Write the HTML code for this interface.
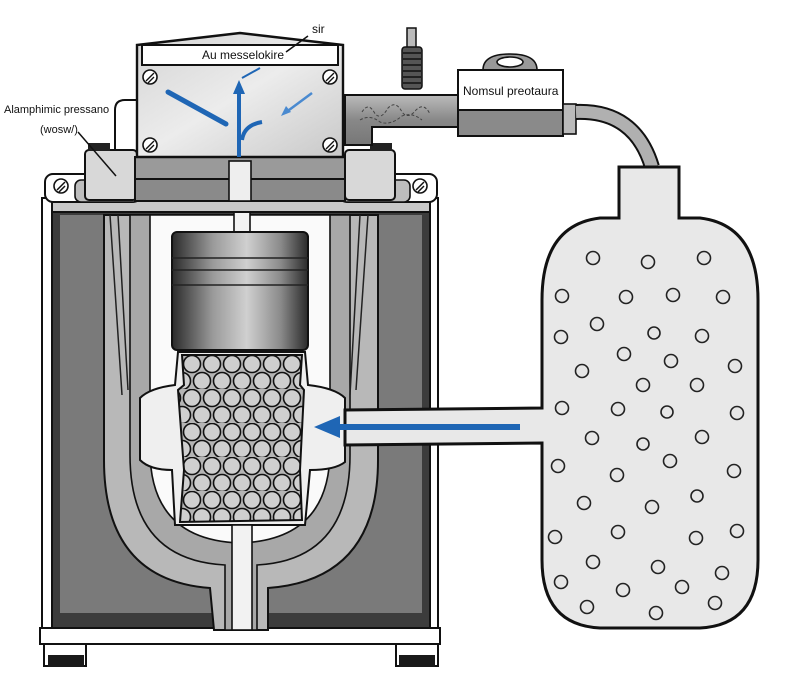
<!DOCTYPE html>
<html><head><meta charset="utf-8"><style>
html,body{margin:0;padding:0;background:#fff;}
svg{display:block;}
text{font-family:"Liberation Sans",sans-serif;}
</style></head><body>
<svg width="800" height="689" viewBox="0 0 800 689" xmlns="http://www.w3.org/2000/svg">
<defs>
<linearGradient id="piston" x1="0" y1="0" x2="1" y2="0">
<stop offset="0" stop-color="#2a2a2a"/><stop offset="0.3" stop-color="#9a9a9a"/><stop offset="0.55" stop-color="#d0d0d0"/><stop offset="0.8" stop-color="#8a8a8a"/><stop offset="1" stop-color="#2a2a2a"/>
</linearGradient>
<linearGradient id="head" x1="0" y1="0" x2="1" y2="1">
<stop offset="0" stop-color="#d4d4d4"/><stop offset="0.5" stop-color="#ececec"/><stop offset="1" stop-color="#c8c8c8"/>
</linearGradient>
<linearGradient id="pipe" x1="0" y1="0" x2="0" y2="1">
<stop offset="0" stop-color="#bbb"/><stop offset="0.5" stop-color="#888"/><stop offset="1" stop-color="#777"/>
</linearGradient>
<pattern id="beads" x="182" y="355" width="40" height="34" patternUnits="userSpaceOnUse">
<rect width="40" height="34" fill="#b5b5b5"/>
<circle cx="10" cy="9" r="8.5" fill="#cfcfcf" stroke="#111" stroke-width="1.6"/>
<circle cx="30" cy="9" r="8.5" fill="#cfcfcf" stroke="#111" stroke-width="1.6"/>
<circle cx="20" cy="26" r="8.5" fill="#cfcfcf" stroke="#111" stroke-width="1.6"/>
<circle cx="0" cy="26" r="8.5" fill="#cfcfcf" stroke="#111" stroke-width="1.6"/>
<circle cx="40" cy="26" r="8.5" fill="#cfcfcf" stroke="#111" stroke-width="1.6"/>
</pattern>
</defs>

<!-- outer frame -->
<rect x="42" y="198" width="396" height="432" fill="#fff" stroke="#111" stroke-width="2"/>
<rect x="52" y="212" width="378" height="418" fill="#3c3c3c" stroke="#111" stroke-width="2"/>
<rect x="60" y="215" width="362" height="398" fill="#7a7a7a"/>
<rect x="40" y="628" width="400" height="16" fill="#fff" stroke="#111" stroke-width="2"/>
<rect x="44" y="644" width="42" height="22" fill="#fff" stroke="#111" stroke-width="2"/>
<rect x="48" y="655" width="36" height="12" fill="#1a1a1a"/>
<rect x="396" y="644" width="42" height="22" fill="#fff" stroke="#111" stroke-width="2"/>
<rect x="399" y="655" width="36" height="12" fill="#1a1a1a"/>

<!-- U-shaped jacket -->
<path d="M104,215 L104,460 Q104,580 210,588 L214,630 L268,630 L268,588 Q378,580 378,460 L378,215 Z" fill="#b8b8b8" stroke="#111" stroke-width="2"/>
<path d="M130,215 L130,455 Q130,560 225,565 L225,630 L257,630 L257,565 Q350,560 350,455 L350,215 Z" fill="#a8a8a8" stroke="#111" stroke-width="1.6"/>
<path d="M150,215 L150,450 Q150,540 240,543 Q330,540 330,450 L330,215 Z" fill="#fafafa" stroke="#111" stroke-width="1.6"/>
<path d="M110,215 L122,395 M118,215 L128,390 M360,215 L350,395 M368,215 L356,390" stroke="#222" stroke-width="1.5" fill="none"/>
<!-- bead chamber with bulge -->
<path d="M140,398 Q150,388 175,385 L178,352 L305,352 L308,385 Q335,388 345,398 L345,462 Q335,470 310,470 L305,525 L175,525 L172,470 Q150,470 140,460 Z" fill="#efefef" stroke="#111" stroke-width="2"/>
<path d="M182,355 L302,355 L300,385 L304,390 L300,470 L302,520 L180,522 L184,470 L178,390 L184,385 Z" fill="url(#beads)" stroke="#111" stroke-width="2"/>
<!-- stem -->
<rect x="232" y="525" width="20" height="105" fill="#f2f2f2" stroke="#111" stroke-width="1.6"/>
<rect x="234" y="212" width="16" height="22" fill="#f2f2f2" stroke="#111" stroke-width="1.6"/>
<!-- piston -->
<rect x="172" y="232" width="136" height="118" rx="5" fill="url(#piston)" stroke="#111" stroke-width="2"/>
<path d="M172,258 H308 M172,270 H308 M172,285 H308" stroke="#222" stroke-width="1.5"/>

<!-- top bar -->
<rect x="52" y="200" width="378" height="12" fill="#c8c8c8" stroke="#111" stroke-width="2"/>
<!-- shoulders -->
<rect x="45" y="174" width="95" height="28" rx="8" fill="#fff" stroke="#111" stroke-width="2"/>
<rect x="75" y="180" width="65" height="22" rx="6" fill="#bdbdbd" stroke="#111" stroke-width="1.6"/>
<rect x="340" y="174" width="97" height="28" rx="8" fill="#fff" stroke="#111" stroke-width="2"/>
<rect x="340" y="180" width="70" height="22" rx="6" fill="#bdbdbd" stroke="#111" stroke-width="1.6"/>
<g fill="#fff" stroke="#111" stroke-width="1.6">
<circle cx="61" cy="186" r="7"/><circle cx="420" cy="186" r="7"/></g>
<path d="M57,190 L65,182 M59,192 L65,186 M416,190 L424,182 M418,192 L424,186" stroke="#111" stroke-width="1.5"/>
<!-- side blocks -->
<path d="M115,150 L115,110 Q115,100 125,100 L137,100" fill="none" stroke="#111" stroke-width="2"/>
<rect x="85" y="150" width="52" height="50" rx="4" fill="#d8d8d8" stroke="#111" stroke-width="2"/>
<rect x="88" y="143" width="22" height="8" fill="#222"/>
<rect x="345" y="150" width="50" height="50" rx="4" fill="#d8d8d8" stroke="#111" stroke-width="2"/>
<rect x="370" y="143" width="22" height="8" fill="#222"/>
<!-- lower head bands -->
<rect x="135" y="157" width="210" height="22" fill="#9a9a9a" stroke="#111" stroke-width="2"/>
<rect x="135" y="179" width="210" height="22" fill="#8a8a8a" stroke="#111" stroke-width="2"/>
<rect x="229" y="161" width="22" height="40" fill="#eee" stroke="#111" stroke-width="1.6"/>

<!-- head -->
<path d="M137,45 L240,33 L343,45 L343,157 L137,157 Z" fill="url(#head)" stroke="#111" stroke-width="2.4"/>
<rect x="142" y="45" width="196" height="20" fill="#fff" stroke="#111" stroke-width="2"/>
<text x="243" y="59" font-size="12" text-anchor="middle" fill="#111">Au messelokire</text>
<path d="M286,52 L308,36" stroke="#111" stroke-width="1.5"/>
<text x="312" y="33" font-size="12" fill="#111">sir</text>
<g fill="#fff" stroke="#111" stroke-width="1.6">
<circle cx="150" cy="77" r="7"/><circle cx="330" cy="77" r="7"/><circle cx="150" cy="145" r="7"/><circle cx="330" cy="145" r="7"/></g>
<path d="M146,81 L154,73 M148,83 L154,77 M326,81 L334,73 M328,83 L334,77 M146,149 L154,141 M148,151 L154,145 M326,149 L334,141 M328,151 L334,145" stroke="#111" stroke-width="1.4"/>
<!-- blue arrows -->
<g fill="#1f66b5" stroke="#1f66b5">
<path d="M168,92 L226,124" stroke-width="5" stroke-linecap="round"/>
<path d="M239,157 L239,88" stroke-width="4" fill="none"/>
<path d="M233,94 L239,80 L245,94 Z" stroke="none"/>
<path d="M242,140 Q244,125 262,122" stroke-width="4" fill="none"/>
<path d="M242,78 L260,68" stroke-width="2"/>
<path d="M312,93 L285,113" stroke="#4a8ad0" stroke-width="2.5"/>
<path d="M281,116 L286,106 L291,112 Z" stroke="none" fill="#4a8ad0"/>
</g>

<!-- left label -->
<text x="4" y="113" font-size="11" fill="#111">Alamphimic pressano</text>
<text x="40" y="133" font-size="11" fill="#111">(wosw/)</text>
<path d="M78,132 L116,176" stroke="#111" stroke-width="1.5"/>

<!-- pipe -->
<path d="M345,95 L462,95 L462,127 L372,127 L372,145 L345,145 Z" fill="url(#pipe)" stroke="#111" stroke-width="2"/>
<path d="M362,112 q6,-10 12,0 q6,10 14,-4 q8,-8 14,4 q6,8 14,-2 q8,-8 14,4 M360,120 q10,-6 20,2 q10,4 22,-6 q10,-4 20,4" stroke="#444" stroke-width="1" fill="none" stroke-dasharray="3,2"/>
<rect x="407" y="28" width="9" height="20" fill="#bbb" stroke="#111" stroke-width="1.5"/>
<rect x="402" y="47" width="20" height="42" rx="3" fill="#555" stroke="#111" stroke-width="1.5"/>
<path d="M402,53 H422 M402,59 H422 M402,65 H422 M402,71 H422 M402,77 H422 M402,83 H422" stroke="#222" stroke-width="2"/>
<!-- normal pressure box -->
<path d="M483,70 Q483,54 510,54 Q537,54 537,70 Z" fill="#999" stroke="#111" stroke-width="1.6"/>
<ellipse cx="510" cy="62" rx="13" ry="5" fill="#fff" stroke="#111" stroke-width="1.6"/>
<rect x="458" y="70" width="105" height="40" fill="#fff" stroke="#111" stroke-width="2"/>
<rect x="458" y="110" width="105" height="26" fill="#8a8a8a" stroke="#111" stroke-width="2"/>
<text x="463" y="95" font-size="12" fill="#111">Nomsul preotaura</text>
<rect x="563" y="104" width="13" height="30" fill="#bbb" stroke="#111" stroke-width="1.6"/>
<!-- curved tube -->
<path d="M576,112 Q635,110 652,167" fill="none" stroke="#111" stroke-width="16"/>
<path d="M576,112 Q635,110 652,167" fill="none" stroke="#b0b0b0" stroke-width="12"/>

<!-- tank -->
<path d="M619,167 L679,167 L679,218 L700,218 Q758,225 758,300 L758,560 Q758,625 700,628 L600,628 Q542,625 542,560 L542,443 L345,445 L345,410 L542,408 L542,300 Q542,225 600,218 L619,218 Z" fill="#e8e8e8" stroke="#111" stroke-width="3"/>
<path d="M350,412 L350,443" stroke="#e8e8e8" stroke-width="6"/>
<!-- blue arrow -->
<path d="M520,427 L335,427" stroke="#1f66b5" stroke-width="6"/>
<path d="M340,416 L314,427 L340,438 Z" fill="#1f66b5"/>

<g fill="#e6e6e6" stroke="#222" stroke-width="1.6">
<circle cx="593" cy="258" r="6.5"/><circle cx="648" cy="262" r="6.5"/><circle cx="704" cy="258" r="6.5"/>
<circle cx="562" cy="296" r="6.5"/><circle cx="626" cy="297" r="6.5"/><circle cx="673" cy="295" r="6.5"/><circle cx="723" cy="297" r="6.5"/>
<circle cx="561" cy="337" r="6.5"/><circle cx="597" cy="324" r="6.5"/><circle cx="654" cy="333" r="6"/><circle cx="702" cy="336" r="6.5"/>
<circle cx="624" cy="354" r="6.5"/><circle cx="671" cy="361" r="6.5"/><circle cx="735" cy="366" r="6.5"/><circle cx="582" cy="371" r="6.5"/>
<circle cx="643" cy="385" r="6.5"/><circle cx="697" cy="385" r="6.5"/>
<circle cx="562" cy="408" r="6.5"/><circle cx="618" cy="409" r="6.5"/><circle cx="667" cy="412" r="6"/><circle cx="737" cy="413" r="6.5"/>
<circle cx="592" cy="438" r="6.5"/><circle cx="643" cy="444" r="6"/><circle cx="702" cy="437" r="6.5"/>
<circle cx="558" cy="466" r="6.5"/><circle cx="617" cy="475" r="6.5"/><circle cx="670" cy="461" r="6.5"/><circle cx="734" cy="471" r="6.5"/>
<circle cx="584" cy="503" r="6.5"/><circle cx="652" cy="507" r="6.5"/><circle cx="697" cy="496" r="6"/>
<circle cx="555" cy="537" r="6.5"/><circle cx="618" cy="532" r="6.5"/><circle cx="696" cy="538" r="6.5"/><circle cx="737" cy="531" r="6.5"/>
<circle cx="593" cy="562" r="6.5"/><circle cx="658" cy="567" r="6.5"/><circle cx="722" cy="573" r="6.5"/>
<circle cx="561" cy="582" r="6.5"/><circle cx="623" cy="590" r="6.5"/><circle cx="682" cy="587" r="6.5"/>
<circle cx="587" cy="607" r="6.5"/><circle cx="656" cy="613" r="6.5"/><circle cx="715" cy="603" r="6.5"/>
</g>
</svg>
</body></html>
